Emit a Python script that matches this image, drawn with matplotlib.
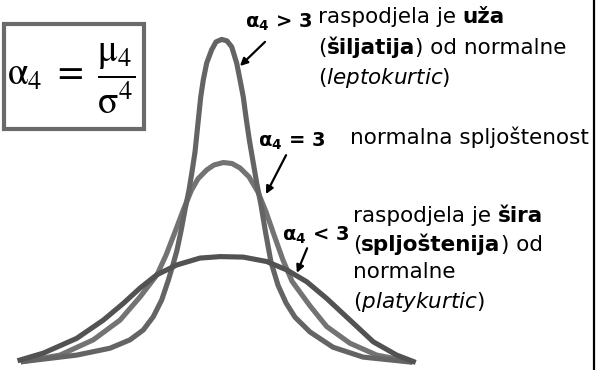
import matplotlib
matplotlib.use("Agg")
import matplotlib.pyplot as plt
from matplotlib.patches import Rectangle

# curve samples (x in sigma units, y = density height)
flat_x = [-4.000, -3.524, -2.843, -2.300, -1.892, -1.551, -1.210, -0.802,
          -0.327, 0.082, 0.557, 1.035, 1.443, 1.851, 2.259, 2.735, 3.210,
          3.688, 4.027]
flat_y = [0.004, 0.018, 0.048, 0.085, 0.119, 0.150, 0.177, 0.197, 0.211,
          0.214, 0.213, 0.204, 0.187, 0.163, 0.129, 0.085, 0.041, 0.014, 0.001]

norm_x = [-3.933, -3.184, -2.504, -1.959, -1.551, -1.204, -1.020, -0.837,
          -0.667, -0.500, -0.367, -0.190, -0.041, 0.149, 0.327, 0.490, 0.673,
          0.857, 1.020, 1.184, 1.367, 1.551, 1.918, 2.259, 2.735, 3.280, 3.959]
norm_y = [0.001, 0.014, 0.045, 0.085, 0.132, 0.177, 0.217, 0.264, 0.309,
          0.349, 0.372, 0.390, 0.400, 0.405, 0.403, 0.394, 0.376, 0.345, 0.305,
          0.258, 0.207, 0.164, 0.114, 0.072, 0.038, 0.014, 0.001]

tall_x = [-3.933, -2.843, -2.163, -1.755, -1.484, -1.280, -1.108, -0.973,
          -0.871, -0.796, -0.714, -0.633, -0.551, -0.490, -0.429, -0.378,
          -0.312, -0.259, -0.190, -0.088, 0.000, 0.116, 0.224, 0.320, 0.422,
          0.490, 0.557, 0.612, 0.680, 0.761, 0.831, 0.918, 1.010, 1.122, 1.265,
          1.429, 1.612, 1.918, 2.388, 3.000, 3.959]
tall_y = [0.001, 0.014, 0.028, 0.045, 0.065, 0.092, 0.126, 0.166, 0.200,
          0.227, 0.266, 0.309, 0.349, 0.386, 0.426, 0.475, 0.538, 0.573, 0.607,
          0.634, 0.650, 0.655, 0.652, 0.640, 0.607, 0.573, 0.538, 0.497, 0.451,
          0.404, 0.363, 0.319, 0.264, 0.203, 0.156, 0.120, 0.091, 0.061, 0.030,
          0.010, 0.000]

# arrows: (tail, head) in data units
arrows = [((1.00, 0.650), (0.49, 0.601)),
          ((1.43, 0.420), (1.02, 0.341)),
          ((1.86, 0.231), (1.65, 0.181))]

W, H = 606, 370
fig = plt.figure(figsize=(W / 100, H / 100), dpi=100)
ax = fig.add_axes([0, 0, 1, 1])
ax.set_xlim(-216 / 49, (W - 216) / 49)
ax.set_ylim(-8 / 492.5, 362 / 492.5)
ax.axis("off")

lw = 3.7
ax.plot(norm_x, norm_y, color="#737373", lw=lw, solid_joinstyle="round")
ax.plot(tall_x, tall_y, color="#646464", lw=lw, solid_joinstyle="round")
ax.plot(flat_x, flat_y, color="#525252", lw=lw, solid_joinstyle="round")

for tail, head in arrows:
    ax.annotate("", xy=head, xytext=tail,
                arrowprops=dict(arrowstyle="-|>", color="black", lw=1.6,
                                mutation_scale=11, shrinkA=0, shrinkB=0))


def P(px, py):
    return px / W, 1 - py / H


FS = 15.5


def rich(px, py, parts, fs=FS):
    # chain text pieces so bold words sit on one line with the rest
    prev = None
    for s, wt in parts:
        if prev is None:
            prev = ax.text(*P(px, py), s, transform=ax.transAxes, fontsize=fs,
                           weight=wt, va="center", ha="left",
                           math_fontfamily="dejavusans")
        else:
            prev = ax.annotate(s, xy=(1, 0), xycoords=prev, fontsize=fs,
                               weight=wt, va="bottom", ha="left")


N, B = "normal", "bold"
rich(318, 17, [("raspodjela je ", N), ("uža", B)])
rich(318, 48, [("(", N), ("šiljatija", B), (") od normalne", N)])
rich(318, 78, [(r"($\mathit{leptokurtic}$)", N)])
rich(350, 137, [("normalna spljoštenost", N)])
rich(353, 216, [("raspodjela je ", N), ("šira", B)])
rich(353, 245, [("(", N), ("spljoštenija", B), (") od", N)])
rich(353, 272, [("normalne", N)])
rich(353, 302, [(r"($\mathit{platykurtic}$)", N)])

for px, py, lab in [(245, 22, r"$\mathbf{\alpha_4}$ > 3"),
                    (258, 141, r"$\mathbf{\alpha_4}$ = 3"),
                    (282, 235, r"$\mathbf{\alpha_4}$ < 3")]:
    ax.text(*P(px, py), lab, transform=ax.transAxes, fontsize=14,
            weight="bold", va="center", ha="left",
            math_fontfamily="dejavusans")

# formula box
ax.add_patch(Rectangle(P(4, 129), 140 / W, 105 / H, transform=ax.transAxes,
                       fill=False, ec="#6a6a6a", lw=3))
ax.text(*P(71, 79), r"$\mathrm{\alpha}_4\ =\ \dfrac{\mathrm{\mu}_4}{\mathrm{\sigma}^4}$",
        transform=ax.transAxes, fontsize=27, va="center", ha="center",
        math_fontfamily="stix")

# right border line
ax.plot([594 / W, 594 / W], [0, 1], transform=ax.transAxes, color="black",
        lw=1.6, clip_on=False)

fig.savefig("out.png", dpi=100)
